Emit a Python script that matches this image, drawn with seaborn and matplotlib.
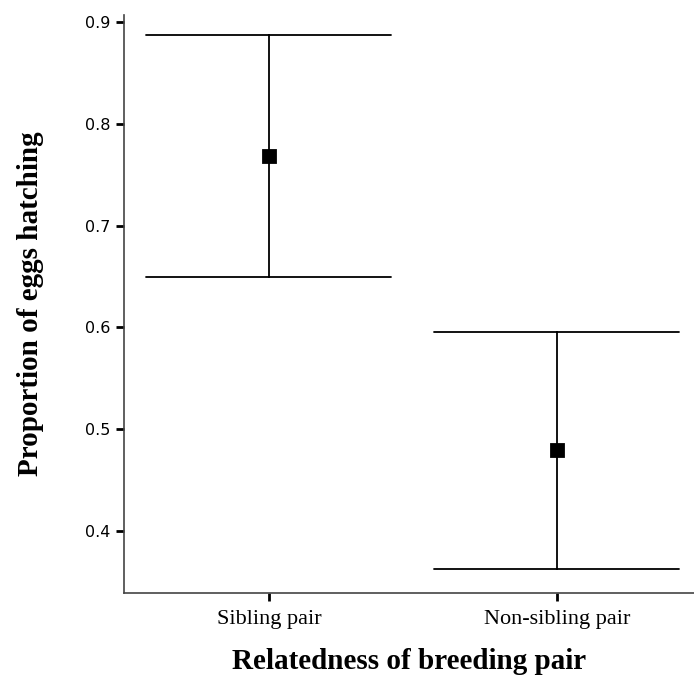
import pandas as pd
import seaborn as sns
from matplotlib import pyplot as plt

# values
groups = ["Sibling pair", "Non-sibling pair"]
means = [0.768, 0.480]
ci_lower = [0.650, 0.363]
ci_upper = [0.887, 0.595]

# three rows per group: lower bound, mean, upper bound
rows = []
for g, lo, m, hi in zip(groups, ci_lower, means, ci_upper):
    for v in (lo, m, hi):
        rows.append({"group": g, "value": v})
df = pd.DataFrame(rows)

sns.set_style("ticks")
plt.rcParams["font.family"] = ["Liberation Serif", "DejaVu Serif"]
plt.rcParams["text.color"] = "black"
plt.rcParams["axes.labelcolor"] = "black"
plt.rcParams["xtick.color"] = "black"
plt.rcParams["ytick.color"] = "black"

fig = plt.figure(figsize=(6.94, 6.91), dpi=100)
ax = fig.add_axes([0.1787, 0.1418, 0.8213, 0.8365])

sns.pointplot(data=df, x="group", y="value", order=groups,
              estimator="median", errorbar=lambda x: (x.min(), x.max()),
              linestyle="none", markers="s", markersize=9,
              color="black", capsize=0.85,
              err_kws={"linewidth": 1.3}, ax=ax)

ax.set_xlim(-0.503, 1.476)
ax.set_ylim(0.339, 0.907)
ax.set_yticks([0.4, 0.5, 0.6, 0.7, 0.8, 0.9])
ax.set_yticklabels(["0.4", "0.5", "0.6", "0.7", "0.8", "0.9"],
                   fontfamily="DejaVu Sans", fontsize=11.5)
ax.tick_params(axis="x", labelsize=16, length=6, width=2, pad=6)
ax.tick_params(axis="y", length=6, width=2)

for side in ["top", "right"]:
    ax.spines[side].set_visible(False)
for side in ["left", "bottom"]:
    ax.spines[side].set_linewidth(1.2)
    ax.spines[side].set_color("#444444")

ax.set_xlabel("Relatedness of breeding pair", fontsize=21, fontweight="bold", labelpad=14)
ax.set_ylabel("Proportion of eggs hatching", fontsize=21, fontweight="bold", labelpad=30)

fig.savefig("out.png", dpi=100)
